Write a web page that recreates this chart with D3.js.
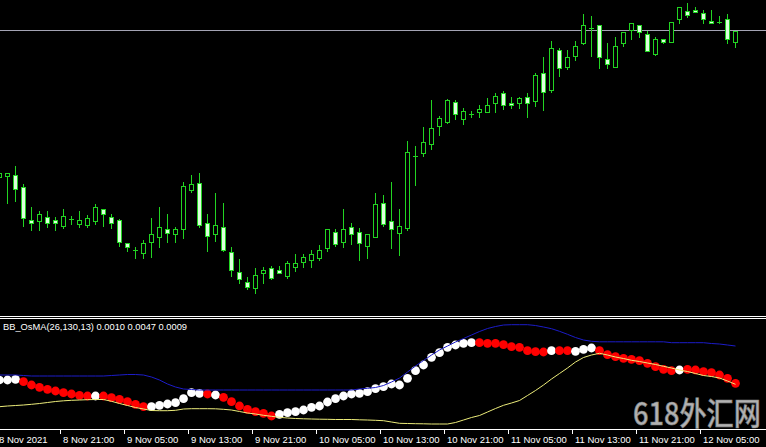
<!DOCTYPE html>
<html><head><meta charset="utf-8">
<script src="https://cdn.jsdelivr.net/npm/d3@7"></script>
<style>html,body{margin:0;padding:0;background:#000;overflow:hidden}svg{display:block}</style>
</head><body><svg id="chart" width="766" height="447"></svg>
<script>
// H1 bars, 8 Nov 2021 13:00 onward
const open=[1.2523,1.25244,1.2525,1.25134,1.24798,1.24794,1.24834,1.24798,1.2474,1.24806,
1.2476,1.2475,1.24786,1.24906,1.24834,1.248,1.24566,1.24504,1.24474,1.24584,
1.24634,1.24706,1.24656,1.2471,1.251,1.25174,1.24766,1.24656,1.24726,1.2448,
1.2428,1.24176,1.24116,1.24274,1.2432,1.24296,1.2424,1.2433,1.24384,1.24404,
1.24424,1.24524,1.2468,1.24584,1.24726,1.2468,1.24544,1.24634,1.24974,1.24794,
1.24674,1.24716,1.25444,1.25474,1.25564,1.2574,1.25784,1.25976,1.2581,1.2586,
1.25884,1.25884,1.25974,1.26066,1.25974,1.25974,1.26034,1.25994,1.26266,1.261,
1.265,1.26334,1.2644,1.26566,1.26716,1.2675,1.26406,1.26334,1.26566,1.267,
1.2675,1.2666,1.2646,1.26606,1.26584,1.26806,1.26894,1.269,1.26874,1.2679,
1.26784,1.26806,1.26584];
const high=[1.2528,1.25274,1.25342,1.2516,1.24926,1.2489,1.2489,1.2483,1.24908,1.2484,
1.24892,1.24854,1.2496,1.24908,1.24864,1.24806,1.24568,1.24534,1.24596,1.24816,
1.24926,1.2486,1.24734,1.25176,1.2525,1.2527,1.2486,1.2507,1.24966,1.24526,
1.24414,1.24226,1.24316,1.24326,1.24336,1.2434,1.2439,1.2446,1.24458,1.245,
1.2455,1.2471,1.2471,1.24906,1.2477,1.24724,1.2466,1.25066,1.2505,1.25176,
1.24906,1.2559,1.2554,1.2573,1.26,1.25836,1.2601,1.26004,1.25924,1.2589,
1.2595,1.26016,1.26074,1.26094,1.26034,1.26034,1.26066,1.26274,1.26426,1.26594,
1.26516,1.265,1.26594,1.2686,1.2684,1.2675,1.26566,1.26634,1.26684,1.26766,
1.2675,1.26694,1.26626,1.26606,1.26784,1.26926,1.26966,1.26934,1.269,1.269,
1.2684,1.2686,1.26694];
const low=[1.2522,1.24974,1.24994,1.24744,1.24704,1.247,1.24734,1.247,1.24718,1.2476,
1.24734,1.24734,1.2476,1.2474,1.24716,1.2454,1.24494,1.24424,1.24424,1.24426,
1.24526,1.24584,1.24584,1.24618,1.25084,1.24726,1.24494,1.24588,1.24494,1.2424,
1.24174,1.24106,1.24066,1.24174,1.24206,1.24266,1.24216,1.24294,1.24334,1.24334,
1.24404,1.24494,1.24536,1.24526,1.24564,1.24404,1.24424,1.2463,1.2474,1.24524,
1.2445,1.247,1.2515,1.25436,1.2551,1.25654,1.2577,1.2581,1.2576,1.25826,
1.25834,1.2588,1.25884,1.25906,1.25924,1.25924,1.25834,1.2594,1.259,1.26084,
1.2624,1.2631,1.264,1.2656,1.2644,1.26316,1.26316,1.26334,1.2654,1.26606,
1.26626,1.26494,1.2645,1.26566,1.26584,1.26766,1.26834,1.26876,1.26766,1.26766,
1.26766,1.26566,1.26534];
const close=[1.2527,1.25266,1.25106,1.24816,1.24766,1.2486,1.24766,1.24766,1.2484,1.24806,
1.248,1.24824,1.24926,1.24856,1.24766,1.24584,1.24526,1.24504,1.24574,1.24656,
1.24726,1.24674,1.2471,1.2514,1.2516,1.24746,1.24636,1.2475,1.245,1.243,
1.24206,1.24134,1.24246,1.24304,1.2422,1.24274,1.24366,1.24366,1.24426,1.24456,
1.245,1.24706,1.24564,1.24706,1.2466,1.24566,1.24656,1.2496,1.2476,1.24706,
1.24744,1.25476,1.25444,1.25582,1.25724,1.25816,1.26,1.25856,1.2589,1.2586,
1.25914,1.2595,1.2604,1.2595,1.25946,1.26016,1.25974,1.26246,1.26084,1.26516,
1.26316,1.26426,1.2654,1.2675,1.26716,1.26426,1.2636,1.2654,1.26684,1.26766,
1.26676,1.26494,1.26606,1.26584,1.26784,1.26926,1.2685,1.26876,1.26806,1.26766,
1.26784,1.26606,1.26694];
const hLinePrice=1.26697;

// BB_OsMA(26,130,13) buffers
const osma=[0.00133,0.00133,0.0014,0.00116,0.00083,0.0006,0.0004,0.00023,0.00006,-0.00007,
-0.0002,-0.00027,-0.00027,-0.00027,-0.00044,-0.0006,-0.00084,-0.0011,-0.00134,-0.00134,
-0.0012,-0.00107,-0.00094,-0.00054,0.00006,0,-0.00007,-0.00017,-0.0004,-0.00084,
-0.00127,-0.0016,-0.00184,-0.002,-0.00227,-0.0021,-0.00194,-0.00184,-0.00167,-0.0014,
-0.00127,-0.00087,-0.00054,-0.00027,-0.00007,0,0.00016,0.00046,0.00066,0.00093,
0.00083,0.0015,0.00226,0.00283,0.0036,0.00406,0.0046,0.00483,0.005,0.00506,
0.00506,0.005,0.005,0.00486,0.00466,0.0046,0.00426,0.00416,0.00413,0.00426,
0.00426,0.00426,0.0042,0.0044,0.00453,0.00426,0.00386,0.00366,0.0035,0.0034,
0.00326,0.003,0.00266,0.0024,0.00226,0.00233,0.0024,0.00233,0.00216,0.00206,
0.00183,0.0015,0.001];
const osmaUp=[1,1,1,0,0,0,0,0,0,0,
0,0,1,0,0,0,0,0,0,1,
1,1,1,1,1,1,0,1,0,0,
0,0,0,0,0,1,1,1,1,1,
1,1,1,1,1,1,1,1,1,1,
1,1,1,1,1,1,1,1,1,1,
0,0,0,0,0,0,0,0,0,1,
0,0,1,1,1,0,0,0,0,0,
0,0,0,0,0,1,0,0,0,0,
0,0,0];
const upperBand=[0.00183,0.00183,0.00183,0.00178,0.00173,0.00173,0.00173,0.00173,0.00173,0.00173,
0.00173,0.00173,0.00173,0.00173,0.00178,0.00183,0.00188,0.00188,0.00183,0.00163,
0.00133,0.00093,0.00063,0.00043,0.00038,0.00033,0.00033,0.00033,0.00033,0.00033,
0.00033,0.00033,0.00033,0.00033,0.00033,0.00033,0.00033,0.00033,0.00033,0.00033,
0.00033,0.00033,0.00033,0.00033,0.00033,0.00043,0.0005,0.00058,0.00078,0.00113,
0.00153,0.00213,0.00273,0.00328,0.00383,0.00433,0.00473,0.00513,0.00548,0.00583,
0.00618,0.00648,0.00668,0.00683,0.00686,0.00686,0.00686,0.00678,0.00663,0.00646,
0.0062,0.0059,0.00558,0.00533,0.0052,0.00515,0.00515,0.00515,0.00515,0.00515,
0.00515,0.00515,0.00515,0.00515,0.00506,0.00506,0.00506,0.00506,0.00506,0.00498,
0.00493,0.00483,0.00473];
const lowerBand=[-0.00134,-0.00127,-0.00122,-0.00117,-0.0011,-0.00102,-0.00092,-0.00082,-0.00075,-0.0007,
-0.00067,-0.00064,-0.00062,-0.00062,-0.0008,-0.00102,-0.00122,-0.00142,-0.00157,-0.00172,
-0.00174,-0.00174,-0.0017,-0.00157,-0.00154,-0.00154,-0.00154,-0.00155,-0.0016,-0.00167,
-0.00182,-0.00197,-0.00207,-0.0022,-0.0023,-0.0024,-0.00247,-0.00252,-0.00255,-0.00257,
-0.00259,-0.0026,-0.00262,-0.00262,-0.00262,-0.00265,-0.00267,-0.0027,-0.00274,-0.00287,
-0.003,-0.00302,-0.00304,-0.00305,-0.00307,-0.00307,-0.00307,-0.00292,-0.00267,-0.00242,
-0.00222,-0.00187,-0.00152,-0.0012,-0.00097,-0.00072,-0.00022,0.00028,0.00083,0.00143,
0.00198,0.00253,0.00313,0.00358,0.00383,0.004,0.00383,0.00363,0.00348,0.0033,
0.00318,0.00303,0.00288,0.0027,0.00253,0.00233,0.00218,0.00198,0.00178,0.00168,
0.00153,0.00123,0.0009];

const tickIndex=[0,8,16,24,32,40,48,56,64,72,80,88];
const tickLabels=["8 Nov 2021","8 Nov 21:00","9 Nov 05:00","9 Nov 13:00","9 Nov 21:00","10 Nov 05:00",
"10 Nov 13:00","10 Nov 21:00","11 Nov 05:00","11 Nov 13:00","11 Nov 21:00","12 Nov 05:00"];
const indicatorLabel="BB_OsMA(26,130,13) 0.0010 0.0047 0.0009";
const watermark="618外汇网";

const W=766,H=447;
const svg=d3.select("#chart");
svg.append("rect").attr("width",W).attr("height",H).attr("fill","#000");
const idx=d3.range(open.length);
const x=d3.scalePoint().domain(idx).range([-0.5,735.5]);
const y=d3.scaleLinear().domain([1.2384,1.2700]).range([316,0]);
const yi=d3.scaleLinear().domain([-0.00367,0.00753]).range([430,318]);
const snap=v=>Math.round(v)+0.5;
const GREEN="#22d422";

// horizontal level line
svg.append("line").attr("x1",0).attr("x2",W)
  .attr("y1",snap(y(hLinePrice))).attr("y2",snap(y(hLinePrice)))
  .attr("stroke","#a4a4b4").attr("stroke-width",1);

// candles
const cg=svg.append("g").attr("shape-rendering","crispEdges");
idx.forEach(i=>{
  const cx=x(i);
  cg.append("line").attr("x1",cx).attr("x2",cx)
    .attr("y1",snap(y(high[i]))-0.5).attr("y2",snap(y(low[i]))+0.5)
    .attr("stroke",GREEN).attr("stroke-width",1);
  const t=Math.round(y(Math.max(open[i],close[i])));
  const b=Math.round(y(Math.min(open[i],close[i])));
  if(b-t<1){
    cg.append("line").attr("x1",cx-2.5).attr("x2",cx+2.5).attr("y1",t+0.5).attr("y2",t+0.5)
      .attr("stroke",GREEN).attr("stroke-width",1);
  } else {
    const bear=close[i]<open[i];
    cg.append("rect").attr("x",cx-2).attr("width",4).attr("y",t+0.5).attr("height",b-t)
      .attr("fill",bear?"#dcffdc":"#000").attr("stroke",GREEN).attr("stroke-width",1);
  }
});

// separators
[316.5,318.5,429.5].forEach(v=>svg.append("line").attr("x1",0).attr("x2",W).attr("y1",v).attr("y2",v)
  .attr("stroke","#ffffff").attr("stroke-width",1));

// indicator dots
svg.append("g").selectAll("circle").data(idx).join("circle")
  .attr("cx",i=>x(i)).attr("cy",i=>yi(osma[i])).attr("r",4.4)
  .attr("fill",i=>osmaUp[i]?"#ffffff":"#ff0000");

// bands
const lineU=d3.line().x(i=>x(i)).y(i=>yi(upperBand[i]));
const lineL=d3.line().x(i=>x(i)).y(i=>yi(lowerBand[i]));
svg.append("path").attr("d",lineU(idx)).attr("fill","none").attr("stroke","#1c1cc8").attr("stroke-width",1);
svg.append("path").attr("d",lineL(idx)).attr("fill","none").attr("stroke","#ecec7a").attr("stroke-width",1);

// indicator label
svg.append("text").attr("x",3).attr("y",330).text(indicatorLabel)
  .attr("fill","#ffffff").attr("font-family","Liberation Sans, Arial, sans-serif").attr("font-size","9.3px");

// time axis
const ax=d3.axisBottom(x).tickValues(tickIndex).tickSize(4).tickFormat((d,i)=>tickLabels[i]);
const axg=svg.append("g").attr("transform","translate(-4,430)").call(ax);
axg.select(".domain").remove();
axg.selectAll(".tick line").attr("stroke","#ffffff").attr("shape-rendering","crispEdges");
axg.selectAll(".tick text").attr("fill","#ffffff").attr("text-anchor","start")
  .attr("x",3).attr("y",13).attr("dy",0)
  .attr("font-family","Liberation Sans, Arial, sans-serif").attr("font-size","9.5px");

// watermark
svg.append("text").attr("transform","translate(633,425) scale(0.97,1.12)").text(watermark)
  .attr("font-family","Noto Sans CJK SC, sans-serif").attr("font-size","28px").attr("font-weight",500)
  .attr("fill","#d4d4d4").attr("fill-opacity",0.85).attr("stroke","#808080").attr("stroke-width",0.6);
</script></body></html>
